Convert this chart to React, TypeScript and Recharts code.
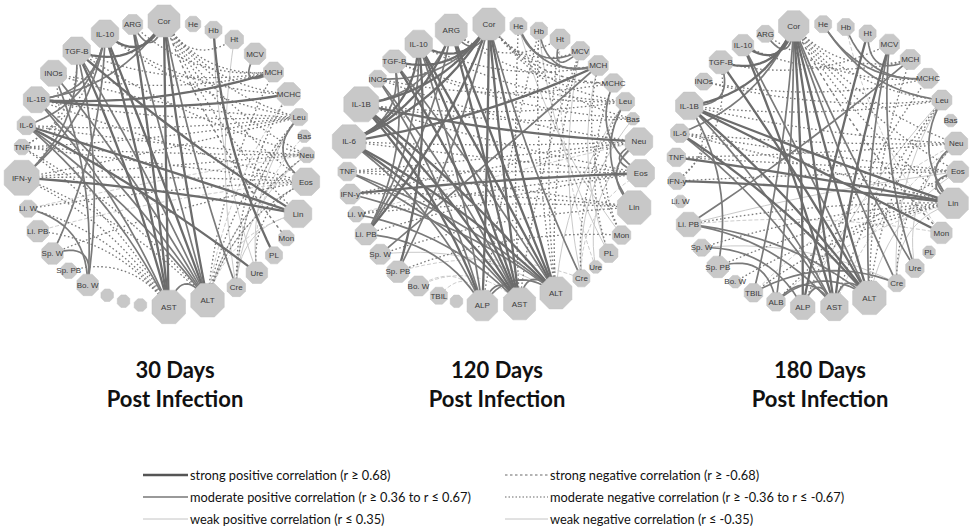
import React from 'react';
import { ScatterChart, Scatter, XAxis, YAxis } from 'recharts';

// node order around each circle, clockwise from the top
const nodeNames = ['Cor', 'He', 'Hb', 'Ht', 'MCV', 'MCH', 'MCHC', 'Leu', 'Bas', 'Neu', 'Eos', 'Lin', 'Mon', 'PL', 'Ure', 'Cre', 'ALT', 'AST', 'ALP', 'ALB', 'TBIL', 'Bo. W', 'Sp. PB', 'Sp. W', 'Li. PB', 'Li. W', 'IFN-y', 'TNF', 'IL-6', 'IL-1B', 'INOs', 'TGF-B', 'IL-10', 'ARG'];

// node weight (number of links, roughly) per time point
const weights30 = [14, 3, 4, 5, 7, 6, 8, 4, 1, 3, 11, 11, 3, 4, 7, 5, 15, 15, 1, 1, 1, 7, 3, 7, 7, 4, 16, 3, 5, 10, 10, 11, 11, 6];
const weights120 = [14, 4, 4, 6, 5, 6, 5, 5, 1, 11, 11, 15, 5, 5, 1, 4, 14, 14, 13, 1, 4, 6, 7, 6, 7, 3, 6, 5, 15, 16, 4, 8, 11, 14];
const weights180 = [13, 4, 4, 4, 6, 6, 6, 6, 1, 8, 7, 13, 7, 1, 5, 4, 15, 11, 9, 5, 5, 1, 7, 4, 9, 1, 4, 5, 5, 11, 4, 8, 7, 4];

const unlabeled30 = ['ALP', 'ALB', 'TBIL'];
const unlabeled120 = ['ALB'];
const unlabeled180: string[] = [];

// correlations: from | to | class
const edges30 = [
  'Cor|AST|sp', 'Cor|ALT|sp', 'Cor|Cre|mp', 'Cor|IL-10|sp', 'Cor|TGF-B|sp', 'Cor|IL-1B|mp', 'ARG|Cor|mp',
  'ARG|AST|sp', 'ARG|ALT|mp', 'IL-10|AST|sp', 'IL-10|ALT|sp', 'IL-10|Sp. W|mp', 'IL-10|IFN-y|mp',
  'TGF-B|AST|sp', 'TGF-B|ALT|mp', 'TGF-B|Lin|sp', 'TGF-B|Bo. W|mp', 'INOs|ALT|mp', 'INOs|Bo. W|mp',
  'IL-1B|MCH|sp', 'IL-1B|MCHC|sp', 'IL-1B|AST|mp', 'IL-1B|ALT|mp', 'IL-1B|IL-10|mp', 'IL-6|Lin|sp',
  'IL-6|Ure|sp', 'IL-6|ALT|mp', 'IL-6|IL-10|mp', 'IL-6|AST|mp', 'IFN-y|Lin|sp', 'IFN-y|TGF-B|mp', 'Hb|PL|sp',
  'MCV|MCH|mp', 'Leu|Eos|mp', 'Li. W|Bo. W|mp', 'Sp. W|Bo. W|mp', 'AST|ALT|mp',
  'Cor|Ht|mn', 'Cor|MCH|mn', 'Cor|MCHC|mn', 'Cor|Leu|mn', 'Cor|Neu|mn', 'Cor|Eos|mn', 'Cor|Lin|mn', 'Cor|Mon|sn',
  'ARG|MCH|mn', 'IL-10|MCHC|mn', 'IL-10|Leu|mn', 'TGF-B|MCH|mn', 'TGF-B|Neu|mn', 'INOs|MCH|mn', 'INOs|Leu|mn',
  'IL-1B|Leu|mn', 'IL-1B|Eos|mn', 'IL-6|Neu|mn', 'IL-6|Leu|mn', 'TNF|Leu|mn', 'TNF|Eos|mn', 'TNF|Neu|mn',
  'IFN-y|Neu|mn', 'IFN-y|Eos|mn', 'IFN-y|Leu|mn', 'Li. W|Eos|mn', 'Sp. W|Eos|mn', 'AST|IFN-y|mn', 'AST|TNF|mn',
  'AST|Li. W|mn', 'AST|Sp. PB|mn', 'AST|Li. PB|mn', 'ALT|IFN-y|mn', 'ALT|TNF|mn', 'ALT|Leu|mn', 'ALT|Neu|mn',
  'ALT|Eos|mn', 'Cre|MCHC|mn', 'Cre|Leu|mn', 'Ure|Eos|mn', 'ALT|MCH|mn', 'TNF|IL-10|mn', 'TNF|TGF-B|mn', 'IFN-y|INOs|mn',
  'Ht|Cre|wp', 'Hb|Ure|wp', 'Leu|Cre|wp', 'Neu|Cre|wp', 'Eos|ALT|wp', 'Lin|Cre|wp', 'Neu|ALT|wp', 'Bas|Ure|wn',
  'Li. PB|Eos|wn', 'Li. W|Neu|wn', 'MCHC|ALT|wn', 'Lin|ALT|wn', 'Leu|Ure|wp',
];

const edges120 = [
  'Cor|ALT|sp', 'Cor|AST|sp', 'Cor|ALP|sp', 'Cor|Cre|mp', 'Cor|ARG|mp', 'Cor|IL-10|sp', 'Cor|TGF-B|sp',
  'Cor|IL-1B|sp', 'Cor|IL-6|sp', 'Cor|INOs|mp', 'Cor|Li. PB|sp', 'Cor|Sp. PB|mp', 'ARG|ALT|sp', 'ARG|AST|sp',
  'ARG|IL-6|sp', 'ARG|IL-1B|mp', 'ARG|Li. PB|mp', 'IL-10|ALT|sp', 'IL-10|AST|sp', 'IL-10|ALP|mp', 'IL-10|IL-6|sp',
  'IL-10|Sp. PB|sp', 'IL-10|Li. PB|mp', 'TGF-B|AST|sp', 'TGF-B|ALT|mp', 'TGF-B|Li. PB|mp', 'TGF-B|IL-6|mp',
  'INOs|ALP|mp', 'INOs|AST|mp', 'IL-1B|Neu|sp', 'IL-1B|ALT|sp', 'IL-1B|AST|sp', 'IL-1B|ALP|sp', 'IL-6|MCH|sp',
  'IL-6|AST|sp', 'IL-6|ALT|sp', 'IL-6|ALP|mp', 'TNF|ALT|mp', 'TNF|AST|mp', 'IFN-y|Eos|sp', 'IFN-y|ALT|mp',
  'Li. W|AST|mp', 'Li. PB|ALP|mp', 'Sp. W|MCH|mp', 'He|MCV|mp', 'He|MCH|mp', 'Hb|MCH|mp', 'Ht|MCV|mp',
  'MCHC|Eos|mp', 'Leu|Lin|mp', 'Neu|Eos|mp', 'Neu|Lin|mp', 'ALP|AST|mp', 'AST|ALT|mp', 'ALP|ALT|mp',
  'Cor|MCV|mn', 'Cor|MCH|mn', 'Cor|Leu|mn', 'Cor|Bas|mn', 'Cor|MCHC|sn', 'ARG|Ht|mn', 'ARG|MCHC|mn',
  'IL-10|MCH|mn', 'IL-10|Leu|mn', 'TGF-B|Leu|mn', 'TGF-B|Bas|mn', 'INOs|MCHC|mn', 'INOs|Neu|mn', 'IL-1B|Bas|mn',
  'IL-1B|Leu|mn', 'IL-1B|Eos|mn', 'IL-6|Neu|mn', 'IL-6|Eos|mn', 'TNF|Neu|mn', 'TNF|Eos|mn', 'TNF|Lin|mn',
  'IFN-y|Neu|mn', 'IFN-y|Lin|mn', 'Li. W|Eos|mn', 'Li. W|Lin|mn', 'Li. PB|Eos|mn', 'Sp. W|Lin|mn', 'Sp. PB|Mon|mn',
  'ALT|Ht|mn', 'ALT|Hb|mn', 'AST|He|mn', 'ALP|Hb|mn', 'ALT|MCV|mn', 'AST|MCV|mn', 'Cre|Leu|mn', 'PL|MCHC|mn',
  'Mon|Leu|mn', 'Mon|MCH|mn',
  'He|Mon|wp', 'Hb|PL|wp', 'Ht|Ure|wn', 'MCV|Cre|wp', 'MCH|PL|wp', 'Leu|ALT|wp', 'Bas|Cre|wp', 'Neu|Ure|wp',
  'Eos|Cre|wn', 'Sp. W|ALT|wp', 'Li. W|Neu|wn', 'Bo. W|AST|wn', 'Sp. PB|Cre|wn', 'TBIL|ALP|wn', 'Bo. W|ALP|wn',
];

const edges180 = [
  'Cor|ALT|sp', 'Cor|AST|sp', 'Cor|ALP|sp', 'Cor|ALB|mp', 'Cor|Cre|mp', 'Cor|Ure|mp', 'Cor|IL-10|sp',
  'Cor|TGF-B|sp', 'Cor|IL-1B|sp', 'Cor|ARG|mp', 'Cor|IL-6|mp', 'Cor|TBIL|mp', 'He|Leu|mp', 'He|MCHC|mp',
  'Hb|MCHC|mp', 'Ht|MCH|mp', 'Ht|ALP|sp', 'MCV|AST|sp', 'MCV|ALT|mp', 'MCV|Ure|mp', 'MCH|Li. PB|mp',
  'IL-10|AST|sp', 'IL-10|ALT|mp', 'TGF-B|ALT|sp', 'TGF-B|IL-1B|mp', 'IL-1B|Lin|sp', 'IL-1B|Mon|sp',
  'IL-1B|AST|mp', 'IL-1B|ALT|sp', 'IL-6|ALT|sp', 'IL-6|AST|mp', 'TNF|Lin|sp', 'IFN-y|Lin|sp', 'Li. PB|ALT|mp',
  'Li. PB|AST|mp', 'Sp. PB|IL-1B|mp', 'Sp. PB|ALB|mp', 'TBIL|Cre|mp', 'ALB|ALT|mp', 'ALP|AST|mp',
  'AST|ALT|mp', 'ALB|AST|mp', 'Leu|Lin|mp', 'Neu|Lin|mp', 'Eos|Lin|mp', 'Sp. W|ALP|mp',
  'Cor|MCH|mn', 'Cor|Leu|mn', 'Cor|Neu|mn', 'Cor|Lin|mn', 'Cor|Eos|mn', 'Cor|Mon|sn', 'ARG|MCHC|mn',
  'IL-10|MCH|mn', 'TGF-B|MCV|mn', 'INOs|MCHC|mn', 'INOs|Leu|mn', 'IL-1B|Leu|mn', 'IL-1B|Neu|mn',
  'IL-6|Neu|mn', 'IL-6|Eos|mn', 'IL-6|Lin|mn', 'TNF|Neu|mn', 'TNF|Eos|mn', 'IFN-y|Eos|mn', 'IFN-y|IL-1B|mn',
  'IFN-y|TGF-B|mn', 'Li. PB|Lin|mn', 'Sp. W|Lin|mn', 'Sp. PB|Lin|mn', 'Bo. W|Lin|mn', 'TBIL|Lin|mn',
  'ALT|MCH|mn', 'AST|Leu|mn', 'ALT|Leu|mn', 'Cre|Neu|mn', 'ALP|MCHC|mn', 'ALB|Eos|mn',
  'Cre|Leu|wp', 'Ure|Neu|wp', 'ALT|Eos|wp', 'AST|Neu|wn', 'ALP|Leu|wp', 'Li. PB|Mon|wn', 'Sp. W|Cre|wp',
  'Li. PB|Eos|wp', 'Mon|Hb|wn', 'Cre|Lin|wp', 'ALB|Lin|wn', 'TBIL|Neu|wn',
];

const legendLeft = [
  ['sp', 'strong positive correlation (r \u2265 0.68)'],
  ['mp', 'moderate positive correlation (r \u2265 0.36 to r \u2264 0.67)'],
  ['wp', 'weak positive correlation (r \u2264 0.35)'],
];
const legendRight = [
  ['sn', 'strong negative correlation (r \u2265 -0.68)'],
  ['mn', 'moderate negative correlation (r \u2265 -0.36 to r \u2264 -0.67)'],
  ['wn', 'weak negative  correlation (r \u2264 -0.35)'],
];

const W = 970;
const H = 529;
const BEND = 0.28;
const STEPS = 14;

const edgeStyle: Record<string, any> = {
  sp: { stroke: '#6c6c6c', strokeWidth: 2.3 },
  mp: { stroke: '#7a7a7a', strokeWidth: 1.7 },
  wp: { stroke: '#cacaca', strokeWidth: 1 },
  sn: { stroke: '#7a7a7a', strokeWidth: 1.4, strokeDasharray: '3 3' },
  mn: { stroke: '#777777', strokeWidth: 1.3, strokeDasharray: '1.6 2.4' },
  wn: { stroke: '#cdcdcd', strokeWidth: 1, strokeDasharray: '4 2' },
};
const legendStroke: Record<string, any> = {
  sp: { stroke: '#555', strokeWidth: 2.5 },
  mp: { stroke: '#777', strokeWidth: 1.6 },
  wp: { stroke: '#c4c4c4', strokeWidth: 1 },
  sn: { stroke: '#9a9a9a', strokeWidth: 1.6, strokeDasharray: '2.5 2.5' },
  mn: { stroke: '#9a9a9a', strokeWidth: 1.3, strokeDasharray: '1.5 2' },
  wn: { stroke: '#c4c4c4', strokeWidth: 1 },
};
const drawOrder = ['wp', 'wn', 'mn', 'sn', 'mp', 'sp'];

const panels = [
  { id: 'd30', cx: 164, cy: 164, rx: 143, ry: 143, start: -90, gap: 4, weights: weights30, unlabeled: unlabeled30, edges: edges30, title: '30 Days', tx: 175 },
  { id: 'd120', cx: 494, cy: 165, rx: 147, ry: 141, start: -92, gap: 1.5, weights: weights120, unlabeled: unlabeled120, edges: edges120, title: '120 Days', tx: 497 },
  { id: 'd180', cx: 817, cy: 166, rx: 141, ry: 142, start: -99.5, gap: 6, weights: weights180, unlabeled: unlabeled180, edges: edges180, title: '180 Days', tx: 820 },
];

const diam = (w: number) => 11 + 1.5 * w;

function layout(p: any) {
  const d = p.weights.map(diam);
  const n = d.length;
  const steps = d.map((di: number, i: number) => (di + d[(i + 1) % n]) / 2 + p.gap);
  const total = steps.reduce((a: number, b: number) => a + b, 0);
  let ang = p.start;
  const out: Record<string, any> = {};
  nodeNames.forEach((name, i) => {
    const a = (ang * Math.PI) / 180;
    out[name] = {
      name,
      x: p.cx + p.rx * Math.cos(a),
      y: p.cy + p.ry * Math.sin(a),
      d: d[i],
      label: !p.unlabeled.includes(name),
    };
    ang += (steps[i] / total) * 360;
  });
  return out;
}

function bezier(a: any, b: any, p: any) {
  const mx = (a.x + b.x) / 2;
  const my = (a.y + b.y) / 2;
  const qx = mx + BEND * (p.cx - mx);
  const qy = my + BEND * (p.cy - my);
  const pts = [];
  for (let k = 0; k <= STEPS; k++) {
    const t = k / STEPS;
    const u = 1 - t;
    pts.push({ x: u * u * a.x + 2 * u * t * qx + t * t * b.x, y: u * u * a.y + 2 * u * t * qy + t * t * b.y });
  }
  return pts;
}

const Empty = () => <g />;

function NodeShape(props: any) {
  const { cx, cy, payload } = props;
  const r = payload.d / 2 / Math.cos(Math.PI / 8);
  const pts = Array.from({ length: 8 }, (_, k) => {
    const a = Math.PI / 8 + (k * Math.PI) / 4;
    return `${cx + r * Math.cos(a)},${cy + r * Math.sin(a)}`;
  }).join(' ');
  return (
    <g>
      <polygon points={pts} fill='#c8c8c8' stroke='#c0c0c0' strokeWidth={0.5} />
      {payload.label && (
        <text x={cx} y={cy} dy='0.35em' textAnchor='middle' fontSize={8} fontFamily='Liberation Sans, Arial' fill='#3a3a3a'>
          {payload.name}
        </text>
      )}
    </g>
  );
}

function LegendRow({ kind, text, x, y, lineW }: any) {
  return (
    <div style={{ position: 'absolute', left: x, top: y - 9, height: 18, display: 'flex', alignItems: 'center', whiteSpace: 'nowrap' }}>
      <svg width={lineW} height={6} style={{ display: 'block' }}>
        <line x1={0} y1={3} x2={lineW} y2={3} {...legendStroke[kind]} />
      </svg>
      <span style={{ marginLeft: 2, fontFamily: 'Lato, Open Sans, sans-serif', fontSize: 12.8, color: '#111' }}>{text}</span>
    </div>
  );
}

export default function App() {
  const laid = panels.map((p) => ({ p, nodes: layout(p) }));
  const edgeSeries: any[] = [];
  laid.forEach(({ p, nodes }) => {
    const list = p.edges.map((e) => e.split('|'));
    drawOrder.forEach((kind) => {
      list
        .filter((e) => e[2] === kind)
        .forEach(([a, b], i) => {
          edgeSeries.push({ key: `${p.id}-${kind}-${a}-${b}-${i}`, kind, data: bezier(nodes[a], nodes[b], p) });
        });
    });
  });

  return (
    <div style={{ position: 'absolute', left: 0, top: 0, width: W, height: H, background: '#fff', overflow: 'hidden' }}>
      <ScatterChart width={W} height={H} margin={{ top: 0, right: 0, bottom: 0, left: 0 }}>
        <XAxis type='number' dataKey='x' domain={[0, W]} hide allowDataOverflow />
        <YAxis type='number' dataKey='y' domain={[0, H]} reversed hide allowDataOverflow />
        {edgeSeries.map((s) => (
          <Scatter
            key={s.key}
            data={s.data}
            isAnimationActive={false}
            legendType='none'
            shape={Empty}
            line={{ fill: 'none', ...edgeStyle[s.kind] }}
            lineType='joint'
            lineJointType='linear'
          />
        ))}
        {laid.map(({ p, nodes }) => (
          <Scatter
            key={`nodes-${p.id}`}
            data={nodeNames.map((n) => nodes[n])}
            isAnimationActive={false}
            legendType='none'
            shape={NodeShape}
          />
        ))}
      </ScatterChart>

      {panels.map((p) => (
        <div
          key={`t-${p.id}`}
          style={{
            position: 'absolute', left: p.tx - 100, top: 355, width: 200, textAlign: 'center',
            fontFamily: 'Lato, Open Sans, sans-serif', fontWeight: 700, fontSize: 22, lineHeight: '29px', color: '#111',
          }}
        >
          <div>{p.title}</div>
          <div>Post Infection</div>
        </div>
      ))}

      {legendLeft.map(([k, t], i) => (
        <LegendRow key={k} kind={k} text={t} x={143} y={475 + i * 22} lineW={45} />
      ))}
      {legendRight.map(([k, t], i) => (
        <LegendRow key={k} kind={k} text={t} x={505} y={475 + i * 22} lineW={43} />
      ))}
    </div>
  );
}
